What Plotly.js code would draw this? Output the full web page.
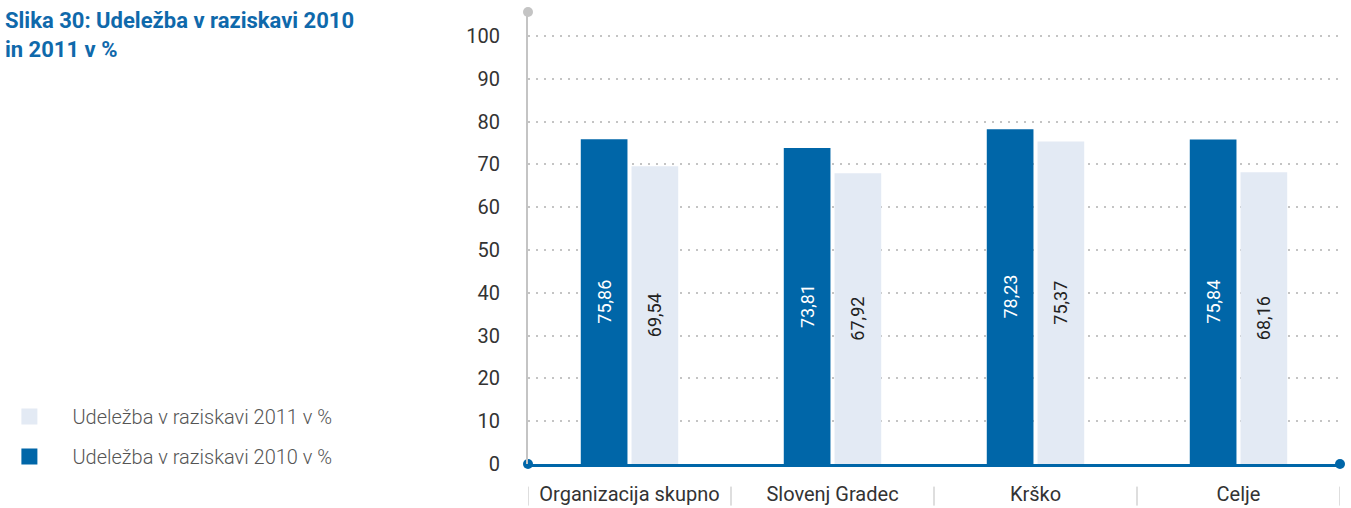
<!DOCTYPE html>
<html>
<head>
<meta charset="utf-8">
<script src="https://cdn.plot.ly/plotly-3.0.1.min.js"></script>
<style>html,body{margin:0;padding:0;background:#fff;}#chart{width:1351px;height:508px;}</style>
</head>
<body>
<div id="chart"></div>
<script>
const categories = ["Organizacija skupno", "Slovenj Gradec", "Krško", "Celje"];
const values2010 = [75.86, 73.81, 78.23, 75.84];
const values2011 = [69.54, 67.92, 75.37, 68.16];
const labels2010 = ["75,86", "73,81", "78,23", "75,84"];
const labels2011 = ["69,54", "67,92", "75,37", "68,16"];
const seriesNames = ["Udeležba v raziskavi 2010 v %", "Udeležba v raziskavi 2011 v %"];
const yTicks = [0, 10, 20, 30, 40, 50, 60, 70, 80, 90, 100];
const titleText = "Slika 30: Udeležba v raziskavi 2010<br>in 2011 v %";

const idx = categories.map((c, i) => i);
const FONT = "Roboto, 'DejaVu Sans', sans-serif";
const DARK = "#0066a8";
const LIGHT = "#e3eaf4";
const YMAX = 105.6;

const traces = [
  {
    type: "bar", x: idx, y: values2010, name: seriesNames[0],
    marker: {color: DARK}, showlegend: false,
    text: labels2010, texttemplate: "%{text}", textposition: "inside",
    insidetextanchor: "middle", textangle: -90,
    insidetextfont: {color: "#ffffff", size: 18, family: FONT},
    hoverinfo: "none"
  },
  {
    type: "bar", x: idx, y: values2011, name: seriesNames[1],
    marker: {color: LIGHT}, showlegend: false,
    text: labels2011, texttemplate: "%{text}", textposition: "inside",
    insidetextanchor: "middle", textangle: -90,
    insidetextfont: {color: "#222222", size: 18, family: FONT},
    hoverinfo: "none"
  },
  /* legend entries with larger square swatches */
  {
    type: "scatter", mode: "markers", x: [null], y: [null], name: seriesNames[1],
    marker: {color: LIGHT, symbol: "square", size: 18}, legendrank: 1, legendgroup: "g2011",
    hoverinfo: "none"
  },
  {
    type: "scatter", mode: "markers", x: [null], y: [null], name: seriesNames[0],
    marker: {color: DARK, symbol: "square", size: 18}, legendrank: 2, legendgroup: "g2010",
    hoverinfo: "none"
  },
  {
    type: "scatter", mode: "markers", x: [-0.5, categories.length - 0.5], y: [0, 0],
    marker: {color: DARK, size: 10}, showlegend: false, cliponaxis: false, hoverinfo: "none"
  },
  {
    type: "scatter", mode: "markers", x: [-0.5], y: [YMAX],
    marker: {color: "#c4c4c4", size: 10}, showlegend: false, cliponaxis: false, hoverinfo: "none"
  }
];

const shapes = [];
for (let i = 0; i <= categories.length; i++) {
  shapes.push({type: "line", xref: "x", yref: "paper", x0: i - 0.5, x1: i - 0.5,
    y0: -0.092, y1: -0.05, line: {color: "#bdbdbd", width: 1}});
}

const layout = {
  width: 1351, height: 508,
  margin: {l: 528, r: 11, t: 12, b: 44, autoexpand: false},
  paper_bgcolor: "#ffffff", plot_bgcolor: "#ffffff",
  font: {family: FONT, color: "#333333"},
  annotations: [{
    text: "<b>" + titleText + "</b>", showarrow: false, align: "left",
    xref: "paper", yref: "paper", x: -0.646, xanchor: "left", y: 1.014, yanchor: "top",
    font: {family: FONT, size: 22, color: "#0f69ab"}
  }],
  barmode: "group", bargap: 0.5, bargroupgap: 0.08,
  xaxis: {
    type: "linear", range: [-0.5, categories.length - 0.5],
    tickvals: idx, ticktext: categories, ticks: "",
    showgrid: false, zeroline: false,
    showline: true, linecolor: DARK, linewidth: 3,
    tickfont: {size: 20, color: "#333333", family: FONT},
    ticklabelstandoff: 10, fixedrange: true
  },
  yaxis: {
    range: [0, YMAX], tickvals: yTicks, ticks: "",
    showgrid: true, gridcolor: "#c4c4c4", gridwidth: 2, griddash: "2px,6px",
    zeroline: false, showline: true, linecolor: "#c4c4c4", linewidth: 2,
    tickfont: {size: 20, color: "#333333", family: FONT},
    ticklabelstandoff: 22, fixedrange: true
  },
  showlegend: true,
  legend: {
    x: -0.667, xanchor: "left", y: 0.148, yanchor: "top",
    traceorder: "grouped", tracegroupgap: 11,
    itemwidth: 76,
    font: {size: 20, color: "#555555", family: FONT, weight: 300},
    bgcolor: "rgba(0,0,0,0)"
  },
  shapes: shapes
};

Plotly.newPlot("chart", traces, layout, {displayModeBar: false, staticPlot: true});
</script>
</body>
</html>
